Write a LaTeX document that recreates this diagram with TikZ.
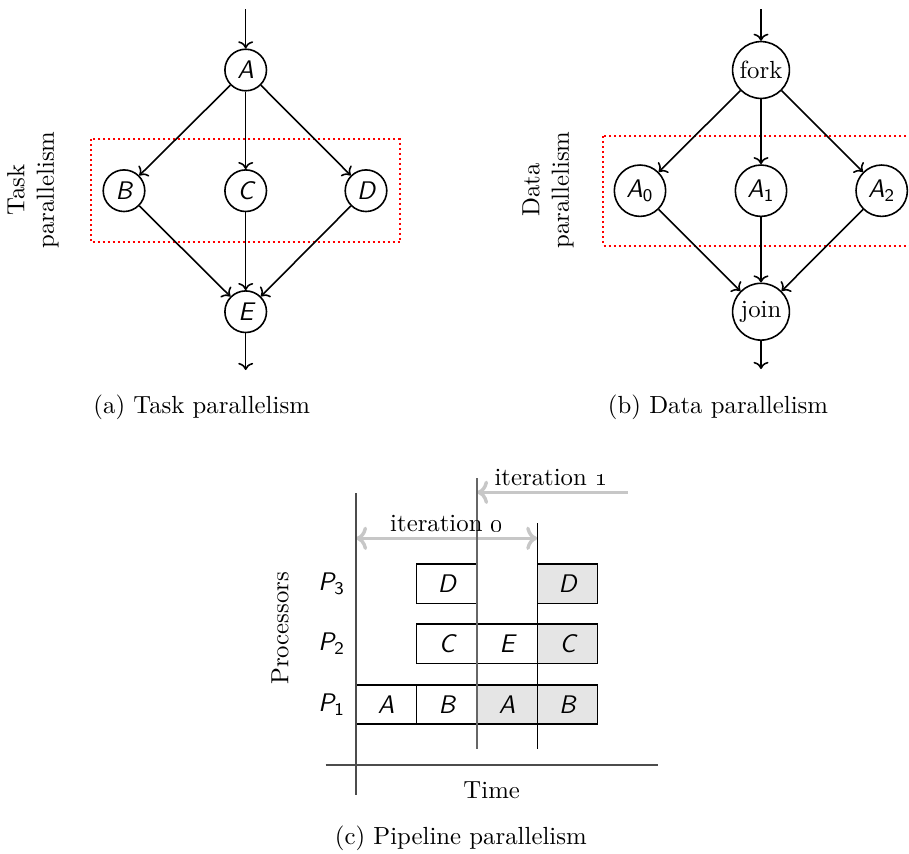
\documentclass[tikz,border=0pt]{standalone}
\usetikzlibrary{arrows.meta}
\begin{document}
\begin{tikzpicture}[x=0.44pt,y=-0.44pt,
  txt/.style={font=\fontsize{10.9}{13}\selectfont},
  sfit/.style={font=\fontsize{11.2}{13}\selectfont\sffamily\itshape},
  edge/.style={line width=0.7pt,->},
  tnode/.style={circle,draw,line width=0.7pt,minimum size=18.3pt,inner sep=0pt,sfit},
  dnode/.style={circle,draw,line width=0.7pt,minimum size=22.6pt,inner sep=0pt,sfit},
  fjnode/.style={circle,draw,line width=0.7pt,minimum size=25pt,inner sep=0pt,txt},
  redbox/.style={draw=red,line width=0.9pt,dash pattern=on 0.9pt off 1.3pt},
  slot/.style={draw,line width=0.6pt,minimum width=26.6pt,minimum height=17.3pt,inner sep=0pt,sfit},
  shaded/.style={slot,fill=black!10},
  iter/.style={line width=1.5pt,black!22},
  axis/.style={line width=0.7pt,black!70}]
\useasboundingbox (0,0) rectangle (909,854);

% ---------- (a) Task parallelism ----------
\draw[redbox] (90.7,139.3) rectangle (400,242.3);
\node[tnode] (A) at (245.7,70) {A};
\node[tnode] (B) at (124,190.7) {B};
\node[tnode] (C) at (245.7,190.7) {C};
\node[tnode] (D) at (366,190.7) {D};
\node[tnode] (E) at (245.7,311.7) {E};
\coordinate (Ain) at (245.7,9.3);
\coordinate (Eout) at (245.7,370);
\draw[edge] (Ain) -- (A);
\draw[edge] (A) -- (B);
\draw[edge] (A) -- (C);
\draw[edge] (A) -- (D);
\draw[edge] (B) -- (E);
\draw[edge] (C) -- (E);
\draw[edge] (D) -- (E);
\draw[edge] (E) -- (Eout);
\node[txt,rotate=90,align=center] (tasklbl) at (33,190) {Task\\parallelism};
\node[txt] (capa) at (201.7,407) {(a) Task parallelism};

% ---------- (b) Data parallelism ----------
\draw[redbox] (603.3,136) rectangle (925,245.7);
\node[fjnode] (fork) at (761,70) {fork};
\node[dnode] (A0) at (640,190.7) {A\textsubscript{\upshape 0}};
\node[dnode] (A1) at (761,190.7) {A\textsubscript{\upshape 1}};
\node[dnode] (A2) at (881.7,190.7) {A\textsubscript{\upshape 2}};
\node[fjnode] (join) at (761,311.7) {join};
\coordinate (fin) at (761,9.3);
\coordinate (jout) at (761,369);
\draw[edge] (fin) -- (fork);
\draw[edge] (fork) -- (A0);
\draw[edge] (fork) -- (A1);
\draw[edge] (fork) -- (A2);
\draw[edge] (A0) -- (join);
\draw[edge] (A1) -- (join);
\draw[edge] (A2) -- (join);
\draw[edge] (join) -- (jout);
\node[txt,rotate=90,align=center] (datalbl) at (548,190) {Data\\parallelism};
\node[txt] (capb) at (718,407) {(b) Data parallelism};

% ---------- (c) Pipeline parallelism ----------
\coordinate (i0l) at (356,538.3);
\coordinate (i0r) at (537.3,538.3);
\coordinate (i1s) at (627.7,492.3);
\coordinate (i1e) at (477,492.3);
\draw[iter,<->] (i0l) -- (i0r);
\draw[iter,->] (i1s) -- (i1e);

\node[slot]   (p1a)  at (386.2,704.5) {A};
\node[slot]   (p1b)  at (446.8,704.5) {B};
\node[shaded] (p1a2) at (507.1,704.5) {A};
\node[shaded] (p1b2) at (567.5,704.5) {B};
\node[slot]   (p2c)  at (446.8,643.8) {C};
\node[slot]   (p2e)  at (507.1,643.8) {E};
\node[shaded] (p2c2) at (567.5,643.8) {C};
\node[slot]   (p3d)  at (446.8,583.7) {D};
\node[shaded] (p3d2) at (567.5,583.7) {D};

\coordinate (ya) at (356,493.3);
\coordinate (yb) at (356,795);
\coordinate (xa) at (325.7,765);
\coordinate (xb) at (658.3,765);
\draw[axis] (ya) -- (yb);
\draw[axis] (xa) -- (xb);
\coordinate (v1a) at (477,478.3);
\coordinate (v1b) at (477,749.3);
\coordinate (v2a) at (537.3,523.3);
\coordinate (v2b) at (537.3,749.3);
\draw[line width=0.6pt,black!60] (v1a) -- (v1b);
\draw[line width=0.6pt] (v2a) -- (v2b);

\node[txt] (it0) at (446.7,523.3) {iteration \oldstylenums{0}};
\node[txt] (it1) at (551,477.3) {iteration \oldstylenums{1}};
\node[sfit] (P3) at (331.7,583.7) {P\textsubscript{\upshape 3}};
\node[sfit] (P2) at (331.7,643.8) {P\textsubscript{\upshape 2}};
\node[sfit] (P1) at (331.7,704.5) {P\textsubscript{\upshape 1}};
\node[txt,rotate=90] (proc) at (280,628.3) {Processors};
\node[txt] (time) at (491.7,790) {Time};
\node[txt] (capc) at (460.8,838) {(c) Pipeline parallelism};
\end{tikzpicture}
\end{document}
